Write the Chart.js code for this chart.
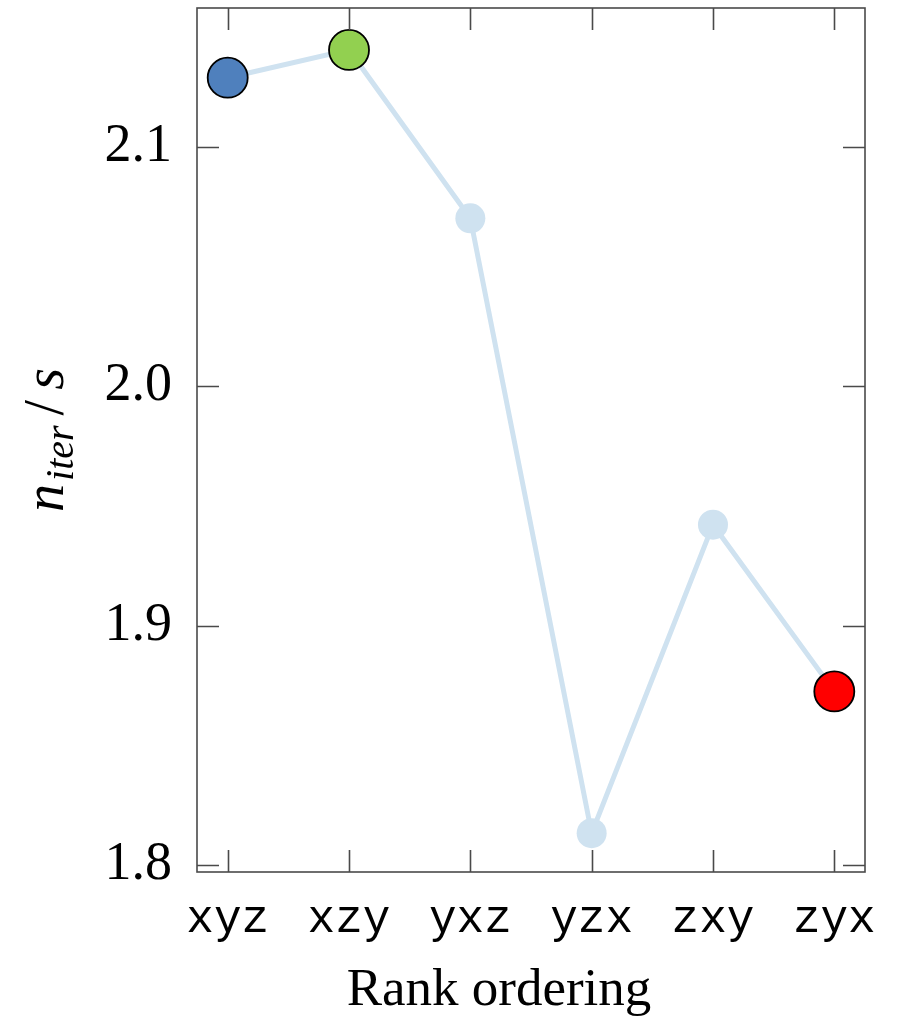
<!DOCTYPE html>
<html>
<head>
<meta charset="utf-8">
<script src="https://cdn.jsdelivr.net/npm/chart.js@4/dist/chart.umd.min.js"></script>
<style>
  html, body { margin: 0; padding: 0; background: #ffffff; }
  #wrap { width: 906px; height: 1018px; position: relative; }
</style>
</head>
<body>
<div id="wrap"><canvas id="c"></canvas></div>
<script>
// Rank orderings and measured iteration rate (iterations per second)
const orderings = ['xyz', 'xzy', 'yxz', 'yzx', 'zxy', 'zyx'];
const itersPerSecond = [2.1288, 2.1404, 2.0701, 1.8134, 1.9422, 1.8726];
const yTickValues = [1.8, 1.9, 2.0, 2.1];

// Highlighted orderings: first, best and worst
const markerFill = ['#4f80bd', '#92d050', '#cfe2f0', '#cfe2f0', '#cfe2f0', '#ff0000'];
const markerEdge = ['#000000', '#000000', 'rgba(0,0,0,0)', 'rgba(0,0,0,0)', 'rgba(0,0,0,0)', '#000000'];
const markerSize = [20, 20, 15, 15, 15, 20];

const points = orderings.map((o, i) => ({ x: i, y: itersPerSecond[i] }));

const FRAME = '#4a4a4a';
const TICK_LEN = 22;

// Boxed axes with inward ticks on all four sides, plus axis titles
const framePlugin = {
  id: 'frame',
  afterDraw(chart) {
    const { ctx, chartArea: a, scales } = chart;
    ctx.save();
    ctx.strokeStyle = FRAME;
    ctx.lineWidth = 1.6;
    ctx.strokeRect(a.left, a.top, a.right - a.left, a.bottom - a.top);
    ctx.beginPath();
    scales.y.ticks.forEach(t => {
      const py = Math.round(scales.y.getPixelForValue(t.value)) + 0.5;
      ctx.moveTo(a.left, py); ctx.lineTo(a.left + TICK_LEN, py);
      ctx.moveTo(a.right, py); ctx.lineTo(a.right - TICK_LEN, py);
    });
    scales.x.ticks.forEach(t => {
      const px = Math.round(scales.x.getPixelForValue(t.value)) + 0.5;
      ctx.moveTo(px, a.bottom); ctx.lineTo(px, a.bottom - TICK_LEN);
      ctx.moveTo(px, a.top); ctx.lineTo(px, a.top + TICK_LEN);
    });
    ctx.stroke();

    // x axis title
    ctx.fillStyle = '#000';
    ctx.font = '53px "Liberation Serif", serif';
    ctx.textAlign = 'center';
    ctx.textBaseline = 'alphabetic';
    ctx.fillText('Rank ordering', 499, 1005);

    // y axis title: n_iter / s, rotated
    ctx.translate(63, (a.top + a.bottom) / 2);
    ctx.rotate(-Math.PI / 2);
    const big = 'italic 56px "Liberation Serif", serif';
    const sub = 'italic 40px "Liberation Serif", serif';
    const up = '56px "Liberation Serif", serif';
    ctx.textAlign = 'left';
    ctx.font = big; const wN = ctx.measureText('n').width;
    ctx.font = sub; const wSub = ctx.measureText('iter').width;
    ctx.font = up; const wSl = ctx.measureText('/').width;
    ctx.font = big; const wS = ctx.measureText('s').width;
    const gapN = 3, gapA = 10, gapB = 10;
    const total = wN + gapN + wSub + gapA + wSl + gapB + wS;
    let x = -total / 2;
    ctx.font = big; ctx.fillText('n', x, 0); x += wN + gapN;
    ctx.font = sub; ctx.fillText('iter', x, 10); x += wSub + gapA;
    ctx.font = up; ctx.fillText('/', x, 0); x += wSl + gapB;
    ctx.font = big; ctx.fillText('s', x, 0);
    ctx.restore();
  }
};

new Chart(document.getElementById('c'), {
  type: 'line',
  data: {
    datasets: [{
      data: points,
      borderColor: '#cfe2f0',
      borderWidth: 5,
      tension: 0,
      pointRadius: markerSize,
      pointHoverRadius: markerSize,
      pointBackgroundColor: markerFill,
      pointBorderColor: markerEdge,
      pointBorderWidth: 1.8,
      clip: false
    }]
  },
  options: {
    responsive: true,
    maintainAspectRatio: false,
    animation: false,
    events: [],
    layout: { autoPadding: false, padding: { top: 8, right: 41, left: 0, bottom: 0 } },
    plugins: { legend: { display: false }, tooltip: { enabled: false } },
    scales: {
      x: {
        type: 'linear',
        min: -0.253,
        max: 5.253,
        grid: { display: false, drawTicks: false },
        border: { display: false },
        afterBuildTicks: s => { s.ticks = orderings.map((o, i) => ({ value: i })); },
        afterFit: s => { s.height = 146; s.paddingLeft = 0; s.paddingRight = 0; },
        ticks: {
          autoSkip: false,
          maxRotation: 0,
          padding: 20,
          color: '#000',
          font: { family: '"Liberation Mono", monospace', size: 46 },
          callback: v => orderings[v]
        }
      },
      y: {
        min: 1.7972,
        max: 2.1579,
        grid: { display: false, drawTicks: false },
        border: { display: false },
        afterBuildTicks: s => { s.ticks = yTickValues.map(v => ({ value: v })); },
        afterFit: s => { s.width = 197; s.paddingTop = 0; s.paddingBottom = 0; },
        ticks: {
          padding: 25,
          color: '#000',
          font: { family: '"Liberation Serif", serif', size: 54 },
          callback: v => v.toFixed(1)
        }
      }
    }
  },
  plugins: [framePlugin]
});
</script>
</body>
</html>
